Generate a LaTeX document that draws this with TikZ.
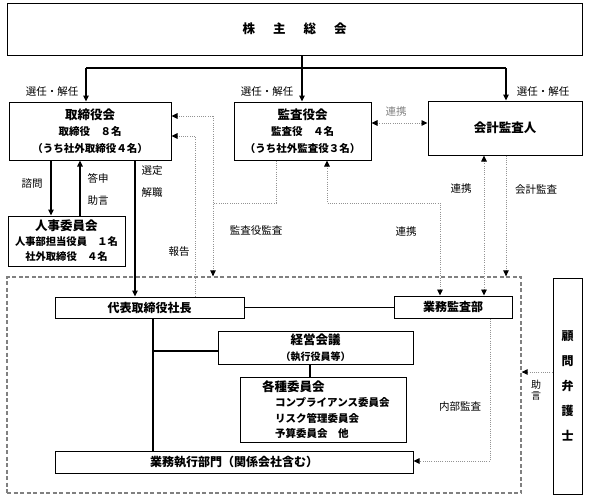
\documentclass[tikz,border=0pt]{standalone}
\usepackage{fontspec}
\setmainfont{Noto Sans CJK JP}
\usetikzlibrary{arrows.meta}
\newcommand\fbigc{\fontsize{12.5}{16.5}\selectfont\bfseries}
\newcommand\fsmlc{\fontsize{10.5}{16.5}\selectfont\bfseries}
\newcommand\flblc{\fontsize{10.5}{12}\selectfont}
\begin{document}
\begin{tikzpicture}[x=1pt,y=-1pt,
 box/.style={draw=black, line width=1pt, fill=white, inner sep=2pt, align=center},
 lbl/.style={inner sep=0pt, font=\flblc},
 solidln/.style={line width=1.5pt},
 dotln/.style={draw=gray!85, line width=0.9pt, dash pattern=on 1pt off 1.2pt},
 frm/.style={draw=gray, line width=1.3pt, dash pattern=on 4pt off 2.5pt},
 tk/.tip={Triangle[length=6pt,width=5.5pt,color=black]}
]
\useasboundingbox (0,0) rectangle (589,501);
\node (frame) [frm, minimum width=514pt, minimum height=216pt, inner sep=0pt] at (264,385) {};

% boxes
\node (gm) [box, minimum width=575pt, minimum height=52pt] at (294.5,29) {\fbigc 株\hspace{18pt}主\hspace{18pt}総\hspace{18pt}会};
\node (tb) [box, minimum width=162pt, minimum height=58pt, font=\fsmlc] at (90,131) {{\fbigc 取締役会}\\取締役　８名\\（うち社外取締役４名）};
\node (ka) [box, minimum width=137pt, minimum height=58pt, font=\fsmlc] at (302.5,131) {{\fbigc 監査役会}\\監査役　４名\\（うち社外監査役３名）};
\node (ca) [box, minimum width=154pt, minimum height=54pt] at (505,128) {\fbigc 会計監査人};
\node (ji) [box, minimum width=117pt, minimum height=50pt, font=\fontsize{10.3}{15}\selectfont\bfseries] at (66.5,241) {{\fontsize{12.5}{15}\selectfont 人事委員会}\\人事部担当役員　１名\\社外取締役　４名};
\node (dh) [box, minimum width=189pt, minimum height=21pt, font=\fontsize{12}{14}\selectfont\bfseries] at (149.5,307.5) {代表取締役社長};
\node (gk) [box, minimum width=118pt, minimum height=22pt, font=\fontsize{12}{14}\selectfont\bfseries] at (453,307) {業務監査部};
\node (kk) [box, minimum width=195pt, minimum height=33pt, font=\fontsize{10}{16.5}\selectfont\bfseries] at (315.5,347.5) {{\fontsize{12.5}{16.5}\selectfont 経営会議}\\（執行役員等）};
\node (ik) [box, minimum width=166pt, minimum height=65pt, text width=166pt, inner xsep=0pt, align=left, font=\fontsize{10.5}{15.3}\selectfont\bfseries] at (323,409.5) {\hspace*{22pt}{\fontsize{12.5}{15.3}\selectfont 各種委員会}\\\hspace*{35pt}コンプライアンス委員会\\\hspace*{35pt}リスク管理委員会\\\hspace*{35pt}予算委員会　他};
\node (gs) [box, minimum width=358pt, minimum height=22pt, font=\fontsize{12}{14}\selectfont\bfseries] at (234,462) {業務執行部門（関係会社含む）};
\node (km) [box, minimum width=29pt, minimum height=216pt, inner sep=0pt, font=\fontsize{12}{25}\selectfont\bfseries] at (567.5,386) {顧\\問\\弁\\護\\士};

% top connectors
\coordinate (jc) at (302,68);
\coordinate (jl) at (86,68);
\coordinate (jr) at (506,68);
\draw[solidln] (gm.south -| jc) -- (jc);
\draw[solidln] (jl) -- (jr);
\draw[solidln,-tk] (jl) -- (jl |- tb.north);
\draw[solidln,-tk] (jc) -- (jc |- ka.north);
\draw[solidln,-tk] (jr) -- (jr |- ca.north);

% board <-> committee
\coordinate (xs) at (51,0);
\coordinate (xt) at (80,0);
\coordinate (xe) at (135,0);
\draw[solidln,-tk] (tb.south -| xs) -- (ji.north -| xs);
\draw[solidln,-tk] (ji.north -| xt) -- (tb.south -| xt);
\draw[solidln,-tk] (tb.south -| xe) -- (dh.north -| xe);

% executive area
\draw[solidln] (dh.east) -- (gk.west |- dh.east);
\coordinate (xv) at (153,351);
\draw[solidln] (dh.south -| xv) -- (gs.north -| xv);
\draw[solidln] (xv) -- (kk.west |- xv);
\coordinate (xk) at (310,0);
\draw[solidln] (kk.south -| xk) -- (ik.north -| xk);

% dotted connectors
\coordinate (a1) at (213,116);
\coordinate (a2) at (213,203);
\coordinate (a3) at (276,203);
\draw[dotln,-tk] (a1) -- (tb.east |- a1);
\draw[dotln,-tk] (a1) -- (a1 |- frame.north);
\draw[dotln] (ka.south -| a3) -- (a3) -- (a2);
\coordinate (b1) at (195,136);
\draw[dotln,-tk] (dh.north -| b1) -- (b1) -- (tb.east |- b1);
\coordinate (c1) at (327,203);
\coordinate (c2) at (440,203);
\draw[dotln,tk-tk] (ka.south -| c1) -- (c1) -- (c2) -- (gk.north -| c2);
\coordinate (d1) at (484,0);
\draw[dotln,tk-tk] (ca.south -| d1) -- (gk.north -| d1);
\coordinate (e1) at (506,0);
\draw[dotln,-tk] (ca.south -| e1) -- (frame.north -| e1);
\coordinate (f1) at (0,123);
\draw[dotln,tk-tk] (ka.east |- f1) -- (ca.west |- f1);
\coordinate (g1) at (490,461);
\draw[dotln,-tk] (gk.south -| g1) -- (g1) -- (gs.east |- g1);
\coordinate (h1) at (0,372);
\draw[dotln,-tk] (km.west |- h1) -- (frame.east |- h1);

% labels
\node (l1) [lbl] at (52,92) {選任・解任};
\node (l2) [lbl] at (267,92) {選任・解任};
\node (l3) [lbl] at (543,92) {選任・解任};
\node (l4) [lbl] at (32,184) {諮問};
\node (l5) [lbl] at (98,178) {答申};
\node (l6) [lbl] at (98,201) {助言};
\node (l7) [lbl] at (152,171) {選定};
\node (l8) [lbl] at (152,193) {解職};
\node (l9) [lbl] at (179,252) {報告};
\node (l10) [lbl] at (256,231) {監査役監査};
\node (l11) [lbl] at (406,232) {連携};
\node (l12) [lbl] at (461,189) {連携};
\node (l13) [lbl] at (536,190) {会計監査};
\node (l14) [lbl, text=gray] at (396,112) {連携};
\node (l15) [lbl] at (460,407) {内部監査};
\node (l16) [lbl, align=center, font=\fontsize{10}{11}\selectfont] at (536,390) {助\\言};
\end{tikzpicture}
\end{document}
